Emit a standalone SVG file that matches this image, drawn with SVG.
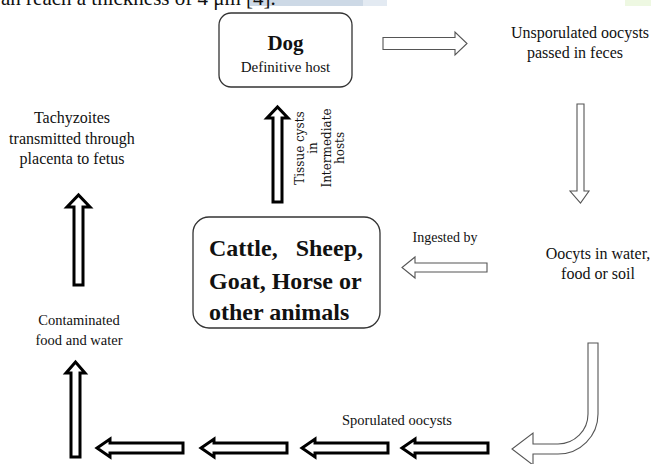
<svg xmlns="http://www.w3.org/2000/svg" width="651" height="464" viewBox="0 0 651 464">
<defs>
<style>
text{font-family:"Liberation Serif","Times New Roman",serif;fill:#111}
.lbl{font-size:16px;text-anchor:middle}
.sm{font-size:14.5px;text-anchor:middle}
text.rot{font-family:"DejaVu Serif",serif;font-size:12px;text-anchor:middle}
.box{fill:#fff;stroke:#333;stroke-width:1.3}
.thin{fill:#fff;stroke:#555;stroke-width:1.1;stroke-linejoin:miter}
.thick{fill:#fff;stroke:#000;stroke-width:3;stroke-linejoin:miter}
</style>
</defs>
<rect width="651" height="464" fill="#fff"/>
<g id="page-top">
<rect x="250" y="0" width="113" height="6" fill="#cdd9e6"/>
<rect x="363" y="0" width="24" height="6" fill="#e3eaf2"/>
<rect x="625" y="0" width="26" height="6" fill="#eef8e2"/>
<text x="1" y="5" style="font-size:21px">an reach a thickness of 4 μm [4].</text>
</g>
<g id="dog">
<rect class="box" x="219" y="13" width="133" height="74" rx="12"/>
<text x="285.5" y="50" style="font-size:21px;font-weight:bold;text-anchor:middle">Dog</text>
<text x="285.5" y="72" style="font-size:15px;text-anchor:middle">Definitive host</text>
</g>
<g id="unsporulated">
<text class="lbl" x="580" y="38">Unsporulated oocysts</text>
<text class="lbl" x="575" y="58">passed in feces</text>
</g>
<g id="oocysts-water">
<text class="lbl" x="598" y="259">Oocyts in water,</text>
<text class="lbl" x="598" y="279">food or soil</text>
</g>
<g id="intermediate">
<rect class="box" x="193" y="217" width="187" height="111" rx="16"/>
<g style="font-size:24px;font-weight:bold">
<text x="209" y="256" xml:space="preserve">Cattle,   Sheep,</text>
<text x="209" y="289">Goat, Horse or</text>
<text x="209" y="320">other animals</text>
</g>
</g>
<g id="tachyzoites">
<text class="lbl" x="72" y="123">Tachyzoites</text>
<text class="lbl" x="72" y="144">transmitted through</text>
<text class="lbl" x="72" y="164">placenta to fetus</text>
</g>
<g id="contaminated">
<text class="sm" x="79" y="325">Contaminated</text>
<text class="sm" x="79" y="345">food and water</text>
</g>
<g id="connectors">
<!-- Dog -> Unsporulated -->
<path class="thin" d="M383 37.5 H455 V32 L467 43.5 L455 55 V49.5 H383 Z"/>
<!-- Unsporulated -> Oocysts -->
<path class="thin" d="M577 104 H584 V191 H589 L580.5 203 L570 191 H577 Z"/>
<!-- Oocysts -> Intermediate (Ingested by) -->
<path class="thin" d="M487 263 V272 H415 V278 L402 267.5 L415 257 V263 Z"/>
<text x="445" y="242" style="font-size:14px;text-anchor:middle">Ingested by</text>
<!-- Intermediate -> Dog -->
<path class="thick" d="M273 202 V118 H267 L277.5 107 L288 118 H282 V202 Z"/>
<text class="rot" transform="translate(304 148) rotate(-90)">Tissue cysts</text>
<text class="rot" transform="translate(317 148) rotate(-90)">in</text>
<text class="rot" transform="translate(331 148) rotate(-90)">Intermediate</text>
<text class="rot" transform="translate(344 148) rotate(-90)">hosts</text>
<!-- Oocysts -> Sporulated (curved) -->
<path class="thin" d="M588 343 H598 V414 A40 40 0 0 1 558 454 H533 V465 L512 449 L533 433 V444 H558 A30 30 0 0 0 588 414 Z"/>
<text class="sm" x="397" y="425">Sporulated oocysts</text>
<!-- bottom thick arrows -->
<path class="thick" d="M488 443 V453 H415 V457 L402 448 L415 439 V443 Z"/>
<path class="thick" d="M388 443 V453 H315 V457 L302 448 L315 439 V443 Z"/>
<path class="thick" d="M287 443 V453 H214 V457 L201 448 L214 439 V443 Z"/>
<path class="thick" d="M183 443 V453 H110 V457 L97 448 L110 439 V443 Z"/>
<!-- lower up arrow -->
<path class="thick" d="M71 457 V373 H66 L75.5 362 L85 373 H80 V457 Z"/>
<!-- upper up arrow -->
<path class="thick" d="M74 285 V207 H67 L78.5 195 L90 207 H83 V285 Z"/>
</g>
</svg>
